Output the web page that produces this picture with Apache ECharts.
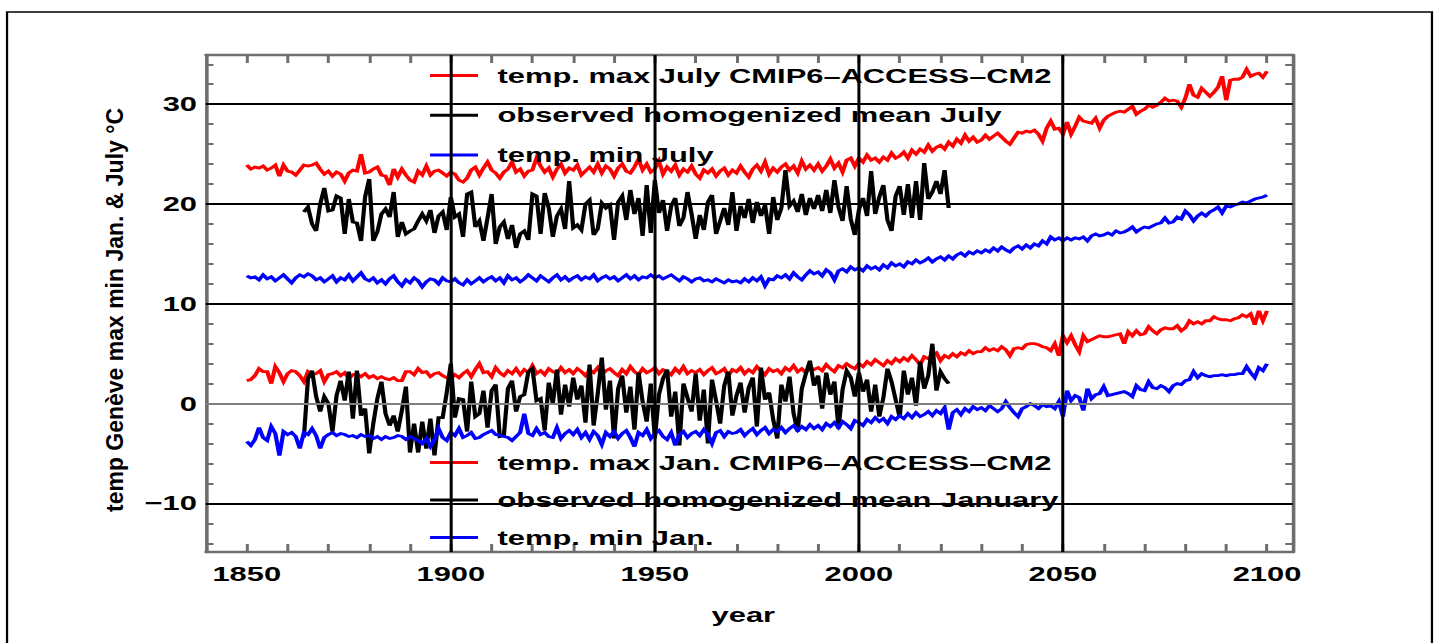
<!DOCTYPE html>
<html>
<head>
<meta charset="utf-8">
<script src="https://cdn.jsdelivr.net/npm/echarts@6/dist/echarts.min.js"></script>
<style>
  html, body { margin: 0; padding: 0; background: #fff; }
  #wrap { width: 1439px; height: 643px; overflow: hidden; position: relative; background: #fff; }
  /* the plot is laid out on a 960px canvas and widened to the page width */
  #chart { width: 960px; height: 643px; transform-origin: 0 0; transform: scaleX(1.498958); }
</style>
</head>
<body>
<div id="wrap"><div id="chart"></div></div>
<script>
// ---- data: Geneva temperatures (°C) ----
const modelStartYear = 1850;   // CMIP6-ACCESS-CM2 runs, 1850-2100
const obsStartYear = 1864;     // homogenized observations, 1864-2022

const julyMaxModel = [
  23.9, 23.5, 23.7, 23.6, 23.8, 23.4, 23.6, 23.9, 22.8, 23.9, // 1850
  23.3, 23.2, 22.9, 23.4, 23.9, 23.8, 23.9, 24.1, 23.5, 23.0, // 1860
  23.3, 22.8, 23.2, 23.0, 22.3, 23.1, 23.4, 23.3, 25.0, 23.1, // 1870
  23.2, 23.5, 23.7, 22.9, 22.8, 21.9, 23.5, 22.7, 23.5, 22.9, // 1880
  22.4, 22.2, 23.3, 22.9, 23.8, 22.9, 23.3, 23.4, 23.1, 22.8, // 1890
  23.2, 23.0, 22.4, 22.2, 22.6, 23.4, 23.7, 22.9, 23.6, 24.2, // 1900
  23.4, 23.1, 22.6, 23.2, 23.5, 24.2, 23.2, 23.5, 22.8, 23.3, // 1910
  23.4, 24.6, 23.8, 23.2, 23.6, 22.7, 23.5, 24.0, 23.1, 23.6, // 1920
  23.4, 23.9, 22.9, 23.3, 23.7, 23.2, 24.0, 23.1, 23.8, 23.5, // 1930
  22.8, 23.6, 24.0, 23.3, 23.1, 23.7, 24.5, 23.4, 24.0, 23.2, // 1940
  23.5, 24.3, 23.0, 23.7, 23.3, 23.9, 22.9, 23.5, 23.2, 23.8, // 1950
  23.0, 22.6, 23.4, 23.1, 23.5, 22.8, 23.3, 23.6, 22.9, 23.4, // 1960
  23.1, 23.8, 23.2, 22.7, 23.5, 23.9, 23.3, 24.2, 23.0, 23.6, // 1970
  23.2, 23.7, 24.0, 23.4, 23.8, 23.1, 24.3, 23.5, 23.9, 23.4, // 1980
  24.0, 23.3, 23.8, 24.5, 23.6, 24.1, 23.2, 24.4, 24.6, 23.8, // 1990
  24.6, 24.2, 24.9, 24.4, 24.6, 24.2, 24.7, 24.4, 25.1, 24.6, // 2000
  24.8, 25.2, 24.6, 25.4, 25.0, 25.5, 25.2, 25.9, 25.3, 25.7, // 2010
  25.9, 25.5, 26.2, 25.8, 26.5, 26.1, 26.9, 26.3, 26.7, 26.2, // 2020
  26.4, 26.9, 26.5, 26.8, 27.1, 26.7, 26.3, 26.0, 26.6, 27.2, // 2030
  27.1, 27.3, 27.2, 27.4, 27.0, 26.3, 27.6, 28.3, 27.5, 27.6, // 2040
  27.0, 28.2, 27.0, 27.8, 28.7, 28.3, 28.2, 28.1, 28.6, 27.6, // 2050
  28.4, 28.8, 29.0, 29.2, 29.3, 29.2, 29.5, 29.8, 29.0, 29.3, // 2060
  29.5, 29.9, 29.7, 29.9, 30.2, 30.6, 30.3, 30.4, 30.3, 29.7, // 2070
  30.6, 32.0, 30.9, 30.7, 31.6, 31.2, 30.8, 31.2, 31.7, 32.8, // 2080
  30.4, 32.4, 32.5, 32.5, 32.7, 33.5, 32.8, 33.0, 33.1, 32.7, // 2090
  33.3                                                        // 2100
];

const julyMinModel = [
  12.8, 12.6, 12.7, 12.4, 12.9, 12.5, 12.7, 12.3, 12.6, 12.9, // 1850
  12.5, 12.1, 12.6, 12.9, 12.7, 13.0, 12.8, 12.4, 12.6, 12.2, // 1860
  12.5, 12.8, 12.2, 12.6, 12.4, 12.9, 12.3, 12.7, 13.1, 12.5, // 1870
  12.3, 12.6, 12.1, 12.4, 12.0, 12.5, 12.8, 12.2, 11.8, 12.4, // 1880
  12.1, 12.6, 12.3, 11.7, 12.2, 12.5, 12.4, 12.0, 12.6, 12.3, // 1890
  12.2, 12.5, 12.1, 11.9, 12.4, 12.0, 12.3, 12.6, 12.2, 12.5, // 1900
  12.7, 12.3, 12.6, 12.1, 12.8, 12.4, 12.6, 12.2, 12.5, 12.9, // 1910
  12.6, 12.3, 12.8, 12.5, 12.2, 12.6, 12.9, 12.4, 12.7, 12.3, // 1920
  12.6, 12.8, 12.4, 12.7, 12.5, 12.9, 12.3, 12.6, 12.8, 12.5, // 1930
  12.7, 12.3, 12.6, 12.9, 12.5, 12.8, 12.4, 12.7, 12.6, 12.9, // 1940
  12.6, 12.8, 12.5, 12.7, 12.9, 12.6, 12.3, 12.7, 12.5, 12.2, // 1950
  12.5, 12.6, 12.3, 12.4, 12.2, 12.5, 12.3, 12.1, 12.4, 12.2, // 1960
  12.3, 12.1, 12.5, 12.2, 12.6, 12.3, 12.7, 11.8, 12.5, 12.4, // 1970
  12.8, 12.6, 12.9, 12.5, 13.1, 12.7, 12.4, 12.9, 13.3, 13.0, // 1980
  13.2, 12.8, 13.4, 13.1, 12.4, 13.3, 13.5, 13.2, 13.7, 13.4, // 1990
  13.6, 13.3, 13.8, 13.5, 13.7, 13.4, 13.9, 13.6, 14.1, 13.8, // 2000
  14.0, 13.7, 14.2, 14.0, 14.4, 14.1, 14.3, 14.6, 14.2, 14.5, // 2010
  14.7, 14.4, 14.8, 14.5, 14.9, 15.1, 14.8, 15.2, 15.0, 15.3, // 2020
  15.1, 15.4, 15.2, 15.6, 15.3, 15.7, 15.4, 15.2, 15.6, 15.8, // 2030
  15.5, 15.9, 15.6, 16.0, 15.8, 16.3, 16.0, 16.7, 16.4, 16.6, // 2040
  16.3, 16.6, 16.4, 16.6, 16.5, 16.7, 16.3, 16.8, 17.0, 16.8, // 2050
  16.9, 17.1, 16.9, 17.3, 17.1, 17.2, 17.4, 17.7, 17.2, 17.5, // 2060
  17.7, 17.6, 17.8, 18.0, 18.1, 18.6, 18.1, 18.2, 18.7, 18.5, // 2070
  19.3, 18.9, 18.3, 18.8, 19.1, 18.8, 19.2, 19.4, 19.7, 19.1, // 2080
  19.8, 19.7, 19.9, 20.0, 20.2, 20.1, 20.3, 20.5, 20.6, 20.7, // 2090
  20.9                                                        // 2100
];

const janMaxModel = [
  2.3, 2.4, 2.8, 3.5, 3.2, 3.2, 2.0, 3.7, 3.1, 2.2, // 1850
  3.0, 3.3, 3.2, 2.8, 2.2, 3.2, 2.9, 3.0, 3.3, 2.2, // 1860
  2.9, 3.0, 3.2, 2.8, 3.1, 2.5, 2.9, 3.0, 2.7, 3.0, // 1870
  2.6, 2.8, 2.5, 2.7, 2.5, 2.4, 2.6, 2.3, 2.3, 3.2, // 1880
  3.2, 2.9, 3.5, 3.1, 3.2, 2.7, 3.0, 3.1, 2.8, 2.6, // 1890
  2.5, 2.9, 2.6, 3.0, 3.3, 2.7, 3.4, 4.0, 3.1, 3.2, // 1900
  2.7, 3.6, 3.1, 2.8, 3.3, 3.0, 3.5, 2.9, 3.4, 3.1, // 1910
  3.8, 3.0, 3.3, 2.9, 3.5, 3.2, 3.0, 3.6, 3.1, 3.4, // 1920
  3.0, 3.5, 3.2, 2.8, 3.4, 3.1, 3.6, 2.9, 3.3, 3.5, // 1930
  3.1, 2.8, 3.4, 3.0, 3.7, 3.2, 2.9, 3.5, 3.1, 3.3, // 1940
  3.6, 3.0, 3.4, 3.2, 2.9, 3.5, 3.1, 3.7, 3.0, 3.3, // 1950
  3.1, 3.4, 2.9, 3.3, 3.6, 3.0, 3.2, 3.5, 2.8, 3.4, // 1960
  3.2, 3.6, 3.0, 3.4, 3.1, 3.7, 3.3, 2.9, 3.5, 3.2, // 1970
  3.4, 3.0, 3.6, 3.3, 3.8, 3.2, 3.5, 3.1, 3.7, 3.4, // 1980
  3.6, 3.3, 3.9, 3.5, 3.2, 3.8, 3.6, 4.0, 3.7, 3.5, // 1990
  4.0, 3.7, 4.2, 3.9, 4.4, 4.1, 3.8, 4.3, 4.0, 4.5, // 2000
  4.2, 4.6, 4.3, 4.8, 4.4, 3.9, 4.7, 4.5, 4.9, 5.1, // 2010
  4.3, 4.8, 4.6, 5.0, 4.7, 5.1, 4.9, 5.3, 5.0, 5.2, // 2020
  5.2, 5.6, 5.3, 5.5, 5.3, 5.7, 5.4, 4.8, 5.5, 5.6, // 2030
  5.5, 5.9, 6.0, 6.0, 5.9, 5.7, 5.6, 5.3, 6.0, 4.8, // 2040
  6.8, 6.1, 6.8, 5.9, 5.2, 6.8, 6.2, 6.4, 6.6, 6.8, // 2050
  6.7, 6.7, 6.8, 6.9, 7.0, 6.0, 7.2, 6.8, 7.3, 6.9, // 2060
  7.0, 7.7, 7.3, 7.0, 7.4, 7.6, 7.5, 7.5, 7.8, 7.3, // 2070
  7.6, 8.3, 8.0, 8.2, 8.0, 8.3, 8.3, 8.7, 8.5, 8.4, // 2080
  8.4, 8.3, 8.5, 8.6, 8.9, 8.7, 9.0, 7.9, 9.3, 8.3, // 2090
  9.3                                               // 2100
];

const janMinModel = [
  -3.8, -4.2, -3.6, -2.4, -3.4, -3.7, -2.3, -3.0, -5.2, -2.8, // 1850
  -3.1, -2.9, -3.3, -4.5, -2.9, -3.1, -2.5, -3.2, -4.5, -3.4, // 1860
  -3.1, -2.9, -3.2, -3.0, -3.1, -3.3, -3.2, -3.4, -3.1, -3.3, // 1870
  -3.2, -3.5, -3.3, -3.6, -3.3, -3.5, -3.4, -3.2, -3.3, -3.6, // 1880
  -3.3, -3.5, -3.7, -4.0, -3.5, -4.3, -3.6, -2.5, -3.4, -3.7, // 1890
  -2.9, -3.2, -2.5, -3.4, -3.2, -2.9, -3.5, -3.4, -3.1, -2.9, // 1900
  -2.7, -3.1, -3.2, -3.3, -3.4, -3.7, -3.3, -2.9, -1.0, -3.0, // 1910
  -3.2, -2.5, -3.1, -2.9, -3.3, -3.4, -2.4, -3.5, -3.0, -2.7, // 1920
  -3.1, -2.6, -3.4, -2.9, -3.6, -2.8, -3.2, -4.1, -2.9, -3.3, // 1930
  -2.8, -3.5, -3.0, -2.7, -3.4, -4.3, -2.9, -3.2, -2.6, -3.5, // 1940
  -3.0, -2.7, -3.3, -3.6, -2.9, -4.2, -3.1, -2.8, -3.4, -3.0, // 1950
  -2.8, -3.2, -2.6, -3.1, -4.0, -2.9, -2.7, -3.3, -2.8, -3.0, // 1960
  -2.9, -2.6, -3.2, -2.8, -2.5, -3.1, -2.7, -2.4, -3.0, -2.6, // 1970
  -2.8, -2.4, -2.9, -2.5, -2.2, -2.7, -2.3, -2.6, -2.1, -2.5, // 1980
  -2.2, -2.6, -2.0, -2.3, -1.9, -2.4, -1.8, -2.1, -2.5, -1.7, // 1990
  -1.9, -2.2, -1.6, -1.9, -1.4, -1.8, -1.5, -2.0, -1.3, -1.6, // 2000
  -1.2, -1.5, -1.0, -1.4, -0.9, -1.3, -1.1, -0.8, -1.2, -0.7, // 2010
  -1.0, -0.4, -2.6, -0.9, -0.6, -1.1, -0.5, -0.8, -0.3, -0.6, // 2020
  -0.4, -0.7, -0.2, -0.5, -0.8, -0.5, 0.2, -0.4, -0.9, -1.3,  // 2030
  -0.5, -0.3, 0.0, -0.2, -0.5, -0.1, -0.3, -0.2, -0.5, 0.2,   // 2040
  -1.3, 1.3, 0.3, 0.8, 0.6, -0.7, 1.5, 0.5, 0.9, 1.0,         // 2050
  1.7, 0.8, 0.9, 1.0, 1.1, 1.2, 1.0, 0.7, 1.8, 1.4,           // 2060
  1.3, 2.2, 1.6, 1.5, 1.8, 1.6, 1.2, 1.8, 2.0, 1.9,           // 2070
  2.3, 2.4, 3.2, 2.6, 3.0, 2.8, 2.7, 2.8, 2.8, 2.9,           // 2080
  2.8, 2.9, 2.9, 3.0, 3.0, 3.7, 3.1, 2.6, 3.6, 3.3,           // 2090
  4.0                                                         // 2100
];

const julyObserved = [
  19.2, 19.7, 18.0, 17.3, 20.0, 21.6,                         // 1864-1869
  19.3, 19.4, 20.8, 20.6, 17.0, 20.5, 18.2, 18.1, 16.3, 20.7, // 1870
  22.5, 16.3, 17.2, 19.0, 19.5, 18.7, 21.2, 16.7, 18.2, 17.0, // 1880
  17.3, 17.5, 18.3, 19.0, 18.3, 19.4, 17.1, 18.8, 19.2, 17.4, // 1890
  20.7, 18.7, 19.0, 16.7, 21.0, 21.2, 17.7, 18.3, 16.3, 18.6, // 1900
  21.0, 16.0, 17.7, 18.2, 16.5, 17.9, 15.6, 17.0, 17.3, 16.4, // 1910
  21.0, 20.8, 17.0, 21.1, 19.6, 16.7, 18.8, 19.5, 17.5, 22.3, // 1920
  17.6, 17.9, 17.4, 20.0, 20.4, 16.9, 17.5, 20.1, 19.6, 19.9, // 1930
  16.4, 20.2, 20.8, 18.4, 21.4, 19.0, 20.6, 16.8, 21.9, 17.1, // 1940
  22.4, 19.1, 20.4, 17.3, 19.8, 20.6, 17.8, 18.6, 21.2, 19.0, // 1950
  16.5, 18.9, 17.4, 20.2, 20.9, 17.0, 18.3, 19.6, 17.9, 21.2, // 1960
  17.3, 19.8, 18.6, 20.5, 18.1, 20.2, 18.8, 19.9, 17.0, 20.7, // 1970
  18.4, 19.6, 23.4, 19.8, 20.3, 19.2, 21.0, 18.9, 20.6, 19.5, // 1980
  20.9, 19.3, 21.4, 19.1, 22.4, 19.7, 18.3, 21.8, 18.5, 16.9, // 1990
  19.4, 20.6, 18.8, 23.3, 19.0, 20.7, 21.9, 18.4, 17.3, 20.8, // 2000
  21.8, 18.9, 22.0, 18.6, 22.3, 18.4, 24.1, 20.5, 21.2, 22.3, // 2010
  21.0, 23.4, 19.6                                            // 2020-2022
];

const janObserved = [
  -3.4, 2.5, 3.3, 0.7, -0.8, 0.7,                             // 1864-1869
  0.0, -2.8, 0.8, 2.3, 0.3, 3.2, -1.5, 3.3, -1.2, -0.5,       // 1870
  -5.0, -2.0, 0.5, 2.2, -1.0, -2.2, -1.2, -2.8, -0.7, 1.7,    // 1880
  -4.9, -2.0, -4.9, -1.8, -4.5, -1.5, -5.2, -1.4, -1.4, 1.1,  // 1890
  4.0, -1.4, 0.5, 0.4, -2.8, 2.2, -1.3, -1.0, 1.3, -2.4,      // 1900
  1.3, 1.9, -3.3, -3.2, 1.5, 2.3, -0.8, 0.7, 0.9, 3.2,        // 1910
  3.5, 0.3, 0.5, -2.7, 2.1, 0.0, 3.4, -1.1, 1.9, -0.3,        // 1920
  2.6, 0.4, 1.8, -1.9, 3.9, -2.2, 1.0, 4.6, -0.6, 2.3,        // 1930
  -3.5, 1.5, 2.8, -0.9, 1.7, -2.6, 3.1, 0.2, -1.8, 2.0,       // 1940
  -3.5, 0.9, 2.5, 3.4, -1.3, 1.2, -4.2, 2.0, 0.6, -0.8,       // 1950
  3.0, -1.7, 1.4, -4.0, 2.4, 0.3, -2.0, 1.8, 3.2, -1.2,       // 1960
  0.8, 2.1, -0.9, 1.6, 2.6, -2.3, 3.6, 0.4, 1.1, -1.6,        // 1970
  -3.5, 1.9, 0.2, 2.7, -1.0, -2.8, 1.5, 3.0, 4.3, 1.8,        // 1980
  2.8, -0.5, 3.1, 0.9, 2.2, -2.5, 1.4, 3.3, 2.6, 0.7,         // 1990
  3.1, 1.2, 2.4, -0.8, 1.9, -1.3, 0.6, 3.5, 2.2, 0.4,         // 2000
  -1.4, 3.3, 0.9, 2.6, -0.2, 4.2, 1.5, 2.8, 6.0, 1.3,         // 2010
  3.2, 2.5, 2.0                                               // 2020-2022
];

// ---- axes and labels ----
const xTickYears = [1850, 1860, 1870, 1880, 1890, 1900, 1910, 1920, 1930, 1940, 1950, 1960, 1970, 1980,
  1990, 2000, 2010, 2020, 2030, 2040, 2050, 2060, 2070, 2080, 2090, 2100];
const xLabelYears = [1850, 1900, 1950, 2000, 2050, 2100];
const xGridYears = [1900, 1950, 2000, 2050];
const yTickValues = [-14, -12, -10, -8, -6, -4, -2, 0, 2, 4, 6, 8, 10, 12, 14, 16, 18, 20, 22, 24, 26, 28, 30, 32, 34];
const yLabelValues = [-10, 0, 10, 20, 30];
const yGridValues = [-10, 10, 20, 30];
const yZeroLine = 0;

const julyLegend = ['temp. max July CMIP6\u2013ACCESS\u2013CM2', 'observed homogenized mean July', 'temp. min July'];
const janLegend = ['temp. max Jan. CMIP6\u2013ACCESS\u2013CM2', 'observed homogenized mean January', 'temp. min Jan.'];
const yTitle = 'temp Genève max min Jan. & July °C';
const xTitle = 'year';

// ---- chart ----
const FONT = '"Liberation Sans", Arial, Helvetica, sans-serif';
const FRAME = '#6e6e6e';
const TEXT_SIZE = 20.6;

function pairs(start, values) {
  return values.map((v, i) => [start + i, v]);
}

function lineSeries(name, start, values, color) {
  return {
    name, type: 'line', data: pairs(start, values),
    symbol: 'none', showSymbol: false, animation: false, silent: true, z: 3,
    color, lineStyle: { color, width: 2.8, join: 'miter' }, itemStyle: { color }
  };
}

const xBase = {
  type: 'value', min: 1840, max: 2106.3, gridIndex: 0,
  splitLine: { show: false },
  axisLine: { show: true, onZero: false, lineStyle: { color: FRAME, width: 2.4 } },
  axisTick: { show: true, inside: true, length: 8, customValues: xTickYears, lineStyle: { color: FRAME, width: 2 } }
};
const yBase = {
  type: 'value', min: -14.87, max: 34.93, gridIndex: 0,
  splitLine: { show: false },
  axisLine: { show: true, onZero: false, lineStyle: { color: FRAME, width: 2.4 } },
  axisTick: { show: true, inside: true, length: 5, customValues: yTickValues, lineStyle: { color: FRAME, width: 2 } }
};

const legendBase = {
  orient: 'vertical', left: 286.9, padding: 0,
  itemWidth: 32, itemHeight: 3, icon: 'rect', selectedMode: false,
  textStyle: { fontFamily: FONT, fontWeight: 'bold', fontSize: TEXT_SIZE, color: '#000', lineHeight: 20, padding: [0, 0, 0, 8] }
};

const gridMarks = yGridValues.map(v => ({ yAxis: v }))
  .concat([{ yAxis: yZeroLine, lineStyle: { color: '#808080' } }])
  .concat(xGridYears.map(y => ({ xAxis: y })));

const chart = echarts.init(document.getElementById('chart'), null, { renderer: 'svg', width: 960, height: 643 });
chart.setOption({
  animation: false,
  backgroundColor: '#fff',
  grid: { left: 137.4, top: 55, width: 725, height: 497, containLabel: false },
  xAxis: [
    Object.assign({}, xBase, {
      position: 'bottom',
      axisLabel: { show: true, customValues: xLabelYears, margin: 11, formatter: v => String(v),
        fontFamily: FONT, fontWeight: 'bold', fontSize: TEXT_SIZE, color: '#000' },
      name: xTitle, nameLocation: 'middle', nameGap: 52,
      nameTextStyle: { fontFamily: FONT, fontWeight: 'bold', fontSize: TEXT_SIZE, color: '#000', padding: [0, 8, 0, 0] }
    }),
    Object.assign({}, xBase, { position: 'top', axisLabel: { show: false } })
  ],
  yAxis: [
    Object.assign({}, yBase, {
      position: 'left',
      axisLabel: { show: true, customValues: yLabelValues, margin: 6,
        formatter: v => (v < 0 ? '\u2212' + Math.abs(v) : String(v)),
        fontFamily: FONT, fontWeight: 'bold', fontSize: TEXT_SIZE, color: '#000' }
    }),
    Object.assign({}, yBase, { position: 'right', axisLabel: { show: false } })
  ],
  legend: [
    Object.assign({}, legendBase, { top: 65, itemGap: 18.7, data: julyLegend }),
    Object.assign({}, legendBase, { top: 452, itemGap: 16.5, data: janLegend })
  ],
  graphic: [
    { type: 'rect', silent: true, z: 100,
      shape: { x: 4.7, y: 12, width: 950.6, height: 700 },
      style: { fill: 'none', stroke: '#000', lineWidth: 1.5 } },
    { type: 'text', silent: true, x: 76.5, y: 310, rotation: Math.PI / 2, scaleX: 1, scaleY: 0.7,
      style: { text: yTitle, fontFamily: FONT, fontWeight: 'bold', fontSize: 23, fill: '#000',
        align: 'center', verticalAlign: 'middle' } }
  ],
  series: [
    { name: 'grid', type: 'line', data: [], silent: true, z: 1, animation: false,
      markLine: { silent: true, symbol: ['none', 'none'], animation: false, label: { show: false },
        lineStyle: { type: 'solid', color: '#000', width: 2 }, data: gridMarks } },
    lineSeries(julyLegend[0], modelStartYear, julyMaxModel, '#ff0000'),
    lineSeries(julyLegend[1], obsStartYear, julyObserved, '#000000'),
    lineSeries(julyLegend[2], modelStartYear, julyMinModel, '#0000ff'),
    lineSeries(janLegend[0], modelStartYear, janMaxModel, '#ff0000'),
    lineSeries(janLegend[1], obsStartYear, janObserved, '#000000'),
    lineSeries(janLegend[2], modelStartYear, janMinModel, '#0000ff')
  ]
});
</script>
</body>
</html>
